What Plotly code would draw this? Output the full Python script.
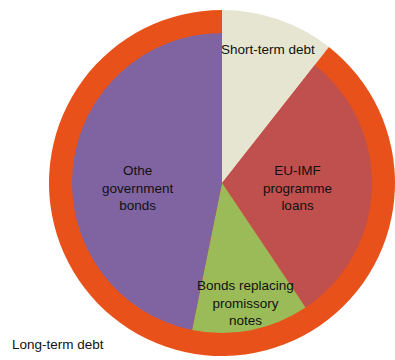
import plotly.graph_objects as go

# Data (shares of total debt, %)
inner_labels = ["Short-term debt", "EU-IMF programme loans", "Bonds replacing promissory notes", "Othe government bonds"]
inner_values = [10.6, 30.0, 12.6, 46.8]
inner_colors = ["#E6E5D1", "#C0504D", "#9BBB59", "#8064A2"]

outer_labels = ["Short-term debt", "Long-term debt"]
outer_values = [10.6, 89.4]
outer_colors = ["#E6E5D1", "#E8511A"]

# Label text displayed (with line breaks)
inner_text = ["Short-term debt", "EU-IMF<br>programme<br>loans", "Bonds replacing<br>promissory<br>notes", "Othe<br>government<br>bonds"]
outer_text = "Long-term debt"

W, H = 395, 360

fig = go.Figure()
fig.add_trace(go.Pie(
    labels=outer_labels, values=outer_values, sort=False, direction="clockwise", rotation=0,
    marker=dict(colors=outer_colors, line=dict(width=0)), textinfo="none", hoverinfo="label+value",
    domain=dict(x=[49 / W, 1.0], y=[3 / H, 351 / H]), showlegend=False,
))
fig.add_trace(go.Pie(
    labels=inner_labels, values=inner_values, sort=False, direction="clockwise", rotation=0,
    marker=dict(colors=inner_colors, line=dict(width=0)), textinfo="none", hoverinfo="label+value",
    domain=dict(x=[72 / W, 372 / W], y=[27 / H, 327 / H]), showlegend=False,
))

label_pos = [(268, 50), (297, 188), (245, 303), (138, 188)]
font = dict(family="Liberation Sans, Arial, sans-serif", size=13.5, color="#111111")
for txt, (px, py) in zip(inner_text, label_pos):
    fig.add_annotation(x=px / W, y=1 - py / H, xref="paper", yref="paper", text=txt,
                       showarrow=False, font=font, align="center", xanchor="center", yanchor="middle")
fig.add_annotation(x=10 / W, y=1 - 344 / H, xref="paper", yref="paper", text=outer_text,
                   showarrow=False, font=font, xanchor="left", yanchor="middle")

fig.update_layout(width=W, height=H, margin=dict(l=0, r=0, t=0, b=0),
                  paper_bgcolor="white", plot_bgcolor="white")
fig.write_html("out.html")
